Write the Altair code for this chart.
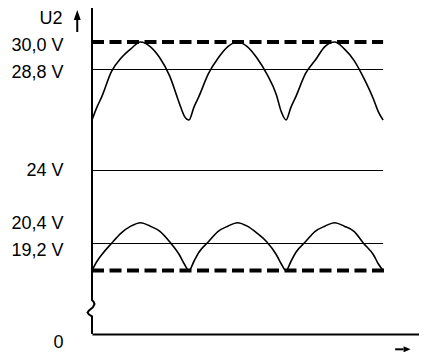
import altair as alt
import pandas as pd

# time in ms (half period = 10 ms)
t_ms = [0, 0.5, 1, 2, 3, 4, 5, 6, 7, 8, 9, 9.5, 10, 10.5, 11, 12, 13, 14, 15, 16, 17, 18, 19,
        19.5, 20, 20.5, 21, 22, 23, 24, 25, 26, 27, 28, 29, 29.5, 30]
u_upper = [26.4, 27.0, 27.5, 28.7, 29.3, 29.7, 30.0, 29.8, 29.3, 28.5, 27.2, 26.6, 26.4,
           27.0, 27.5, 28.6, 29.3, 29.8, 30.0, 29.8, 29.3, 28.6, 27.6, 26.8, 26.4,
           27.0, 27.5, 28.6, 29.2, 29.8, 30.0, 29.7, 29.2, 28.4, 27.4, 26.8, 26.4]
u_lower = [18.0, 18.4, 18.7, 19.2, 19.8, 20.2, 20.4, 20.2, 19.9, 19.3, 18.7, 18.3, 18.0,
           18.4, 18.8, 19.3, 19.9, 20.2, 20.4, 20.2, 19.8, 19.3, 18.7, 18.3, 18.0,
           18.4, 18.8, 19.3, 19.9, 20.2, 20.4, 20.2, 19.9, 19.2, 18.7, 18.3, 18.0]

solid_levels = [28.8, 24.0, 19.2]
solid_end = [30.0, 30.0, 30.0]
dashed_levels = [30.0, 18.0]
dashed_end = [30.0, 30.3]

tick_values = [30.0, 28.8, 24.0, 20.4, 19.2, 0.0]
tick_labels = ["30,0 V", "28,8 V", "24 V", "20,4 V", "19,2 V", "0"]
label_shift = [3, 3, 0, 1, 7, 8]

# y axis line with break
axis_t = [0, 0, 0.15, 0.26, 0.1, -0.3, -0.46, -0.3, 0, 0]
axis_u = [31.5, 9.6, 9.2, 8.5, 7.6, 6.7, 6.1, 5.5, 5.0, 0]

# arrows
up_arrow_t = [-1.52, -1.52]
up_arrow_u = [30.44, 31.0]
up_head = (-1.52, 31.19)
right_arrow_t = [31.24, 32.1]
right_arrow_u = [-4.34, -4.34]
right_head = (32.47, -4.34)

FONT = "Liberation Sans"

xscale = alt.Scale(domain=[0, 33.7], nice=False, zero=False)
yscale = alt.Scale(domain=[0, 18.0, 19.2, 20.4, 24.0, 28.8, 30.0, 31.5],
                   range=[326, 262.5, 235.5, 214.7, 162.5, 61.5, 34, 0],
                   nice=False, zero=False)

label_expr = " : ".join(
    f"abs(datum.value - {v}) < 0.01 ? '{s}'" for v, s in zip(tick_values, tick_labels)
) + " : ''"
label_offset = {
    "condition": [{"test": f"abs(datum.value - {v}) < 0.01", "value": s}
                  for v, s in zip(tick_values, label_shift)],
    "value": 0,
}

xaxis = alt.Axis(domain=True, domainColor="black", domainWidth=2, ticks=False,
                 labels=False, grid=False, title=None)
yaxis = alt.Axis(values=tick_values, labelExpr=label_expr, domain=False, ticks=False,
                 tickSize=0, grid=False, labelPadding=29, labelFont=FONT,
                 labelFontSize=18, labelColor="black", labelOverlap=False,
                 labelOffset=label_offset,
                 title="U2", titleAngle=0, titleX=-30, titleY=10, titleAlign="right",
                 titleBaseline="middle", titleFont=FONT, titleFontSize=18,
                 titleFontWeight="normal", titleColor="black")


def X(f):
    return alt.X(f, type="quantitative", scale=xscale, axis=xaxis)


def Y(f):
    return alt.Y(f, type="quantitative", scale=yscale, axis=yaxis)


curves = pd.DataFrame({
    "t": t_ms * 2,
    "u": u_upper + u_lower,
    "series": ["upper"] * len(t_ms) + ["lower"] * len(t_ms),
})
solid = pd.DataFrame({"t": [0.0] * len(solid_levels), "t2": solid_end, "u": solid_levels})
dashed = pd.DataFrame({"t": [0.0] * len(dashed_levels), "t2": dashed_end, "u": dashed_levels})
yline = pd.DataFrame({"t": axis_t, "u": axis_u, "i": list(range(len(axis_t)))})
uparrow = pd.DataFrame({"t": up_arrow_t, "u": up_arrow_u})
rarrow = pd.DataFrame({"t": right_arrow_t, "u": right_arrow_u})
uphead = pd.DataFrame({"t": [up_head[0]], "u": [up_head[1]]})
rhead = pd.DataFrame({"t": [right_head[0]], "u": [right_head[1]]})

curve_layer = alt.Chart(curves).mark_line(
    color="black", strokeWidth=1.6, interpolate="monotone"
).encode(x=X("t"), y=Y("u"), detail="series:N")

solid_layer = alt.Chart(solid).mark_rule(color="black", strokeWidth=1.2).encode(
    x=X("t"), x2="t2", y=Y("u"))

dashed_layer = alt.Chart(dashed).mark_rule(
    color="black", strokeWidth=4, strokeDash=[12, 5.5]
).encode(x=X("t"), x2="t2", y=Y("u"))

yline_layer = alt.Chart(yline).mark_line(
    color="black", strokeWidth=2, interpolate="linear"
).encode(x=X("t"), y=Y("u"), order="i:Q")

uparrow_layer = alt.Chart(uparrow).mark_line(color="black", strokeWidth=2).encode(
    x=X("t"), y=Y("u"))
rarrow_layer = alt.Chart(rarrow).mark_line(color="black", strokeWidth=2).encode(
    x=X("t"), y=Y("u"))
uphead_layer = alt.Chart(uphead).mark_point(
    shape="M0,-1L0.7,1L-0.7,1Z", size=100, filled=True, color="black", opacity=1
).encode(x=X("t"), y=Y("u"))
rhead_layer = alt.Chart(rhead).mark_point(
    shape="M1,0L-1,0.85L-1,-0.85Z", size=49, filled=True, color="black", opacity=1
).encode(x=X("t"), y=Y("u"))

chart = alt.layer(
    dashed_layer, solid_layer, curve_layer, yline_layer,
    uparrow_layer, uphead_layer, rarrow_layer, rhead_layer
).properties(
    width=327, height=326,
    autosize=alt.AutoSizeParams(type="none"),
    padding={"left": 84, "top": 0, "right": 0, "bottom": 18},
    background="white",
).configure_view(stroke=None)

chart.save("out.html", embed_options={"renderer": "svg", "actions": False})
